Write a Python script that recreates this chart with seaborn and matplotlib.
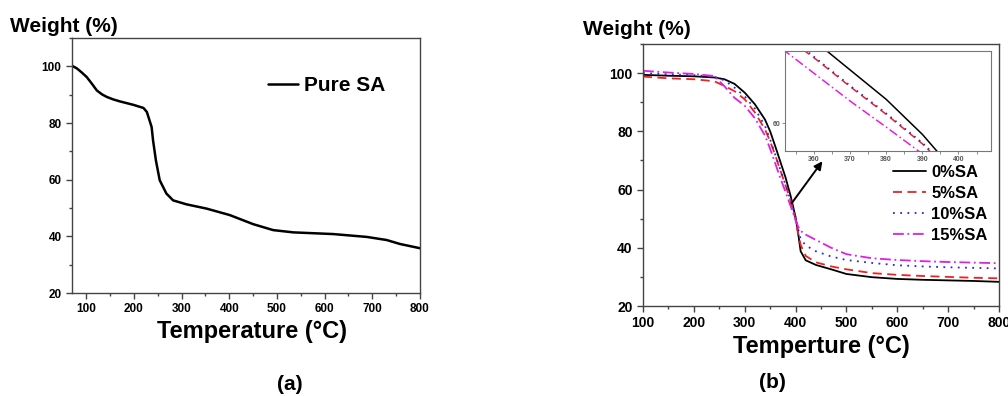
import matplotlib
matplotlib.use('Agg')
import matplotlib.pyplot as plt
from matplotlib.ticker import MultipleLocator
import seaborn as sns
import pandas as pd

# ---- data: panel (a), pure SA
temp_a = [70, 80, 90, 101, 112, 122, 133, 143, 157, 171, 199, 220, 227, 237, 240, 246, 254, 268, 282,
          310, 352, 401, 450, 492, 534, 618, 688, 730, 758, 800]
weight_a = [100.2, 99.3, 97.9, 96.2, 93.8, 91.5, 90.1, 89.2, 88.3, 87.6, 86.4, 85.3, 83.9, 78.6, 73.9,
            66.8, 59.8, 55.1, 52.7, 51.3, 49.8, 47.5, 44.3, 42.2, 41.4, 40.8, 39.8, 38.7, 37.3, 35.8]

# ---- data: panel (b), composites
temp_b = [100, 150, 200, 240, 260, 280, 300, 320, 340, 350, 360, 370, 380, 390, 400,
          405, 410, 420, 440, 470, 500, 550, 600, 650, 700, 750, 800]
sa_0 = [99.4, 99.1, 98.9, 98.5, 97.9, 96.3, 93.3, 89.3, 84.0, 80.0, 74.9, 69.6, 64.3, 58.0, 50.5,
        45.0, 38.8, 35.7, 34.1, 32.6, 31.0, 29.9, 29.3, 29.0, 28.8, 28.6, 28.3]
sa_5 = [98.8, 98.2, 97.9, 97.2, 95.6, 93.8, 91.0, 86.5, 80.6, 76.6, 71.8, 66.6, 61.6, 56.3, 49.8,
        45.0, 41.0, 37.2, 35.0, 33.6, 32.6, 31.3, 30.7, 30.3, 30.0, 29.7, 29.5]
sa_10 = [100.0, 99.6, 99.3, 98.8, 97.5, 95.0, 92.0, 87.8, 81.8, 77.2, 72.0, 66.8, 61.8, 56.5, 50.3,
         46.5, 43.0, 40.8, 38.8, 37.0, 35.8, 34.8, 34.0, 33.6, 33.3, 33.1, 32.9]
sa_15 = [100.8, 100.2, 99.7, 99.0, 95.5, 91.5, 88.8, 84.5, 78.5, 74.0, 69.0, 64.0, 59.3, 54.5, 49.5,
         47.3, 45.8, 44.5, 42.7, 40.0, 37.8, 36.4, 35.8, 35.4, 35.1, 34.9, 34.7]
labels_b = ['0%SA', '5%SA', '10%SA', '15%SA']

df_b = pd.DataFrame({'T': temp_b * 4,
                     'W': sa_0 + sa_5 + sa_10 + sa_15,
                     'sample': [l for l in labels_b for _ in temp_b]})

colors = {'0%SA': 'black', '5%SA': '#ee2222', '10%SA': '#2a2ad0', '15%SA': '#e020e0'}
dashes = {'0%SA': (None, None), '5%SA': (5, 3), '10%SA': (1, 3), '15%SA': (6, 2, 1, 2)}

sns.set_style('ticks')
plt.rcParams['font.family'] = ['Liberation Sans', 'DejaVu Sans']
plt.rcParams['font.weight'] = 'bold'
plt.rcParams['text.color'] = 'black'

fig = plt.figure(figsize=(10.08, 3.96), dpi=100)
spine_c = '#444444'


def style_axes(ax, fs):
    for s in ax.spines.values():
        s.set_visible(True)
        s.set_color(spine_c)
        s.set_linewidth(1.0)
    ax.tick_params(which='major', direction='out', length=4, width=1, color=spine_c,
                   labelsize=fs, labelcolor='black', top=False, right=False)
    ax.tick_params(which='minor', direction='out', length=2.5, width=1, color=spine_c,
                   top=False, right=False)
    for lab in ax.get_xticklabels() + ax.get_yticklabels():
        lab.set_fontweight('bold')


# ---- panel (a)
ax1 = fig.add_axes([72/1008, 1-293/396, 348/1008, 255/396])
sns.lineplot(x=temp_a, y=weight_a, ax=ax1, color='black', lw=1.8, label='Pure SA')
ax1.set_xlim(70, 800)
ax1.set_ylim(20, 110)
ax1.xaxis.set_major_locator(MultipleLocator(100))
ax1.xaxis.set_minor_locator(MultipleLocator(50))
ax1.yaxis.set_major_locator(MultipleLocator(20))
ax1.yaxis.set_minor_locator(MultipleLocator(10))
ax1.set_xlabel('')
ax1.set_ylabel('')
style_axes(ax1, 8.5)
ax1.legend(loc='upper left', bbox_to_anchor=(268/1008, 1-76/396), bbox_transform=fig.transFigure,
           frameon=False, prop={'size': 15, 'weight': 'bold'}, handlelength=1.45,
           handletextpad=0.3, borderpad=0, borderaxespad=0)

fig.text(10/1008, 1-32/396, 'Weight (%)', fontsize=15, fontweight='bold', va='baseline')
fig.text(252/1008, 1-338/396, 'Temperature (°C)', fontsize=17, fontweight='bold',
         ha='center', va='baseline')
fig.text(290/1008, 1-384/396, '(a)', fontsize=15, fontweight='bold', ha='center', va='center')

# ---- panel (b)
ax2 = fig.add_axes([643/1008, 1-306/396, 356/1008, 262/396])
sns.lineplot(data=df_b, x='T', y='W', hue='sample', style='sample', palette=colors,
             dashes=dashes, ax=ax2, lw=1.3)
ax2.set_xlim(100, 800)
ax2.set_ylim(20, 110)
ax2.xaxis.set_major_locator(MultipleLocator(100))
ax2.xaxis.set_minor_locator(MultipleLocator(50))
ax2.yaxis.set_major_locator(MultipleLocator(20))
ax2.yaxis.set_minor_locator(MultipleLocator(10))
ax2.set_xlabel('')
ax2.set_ylabel('')
style_axes(ax2, 10)
ax2.legend(loc='upper left', bbox_to_anchor=(893/1008, 1-165/396), bbox_transform=fig.transFigure,
           frameon=False, prop={'size': 12, 'weight': 'bold'}, handlelength=2.0,
           handletextpad=0.3, labelspacing=0.35, borderpad=0, borderaxespad=0)

# arrow from the crossing point to the inset
ax2.annotate('', xy=(456, 70.5), xytext=(389, 54.5),
             arrowprops=dict(arrowstyle='-|>', color='black', lw=1.4, mutation_scale=12))

fig.text(583/1008, 1-35/396, 'Weight (%)', fontsize=15, fontweight='bold', va='baseline')
fig.text(821/1008, 1-353/396, 'Temperture (°C)', fontsize=17, fontweight='bold',
         ha='center', va='baseline')
fig.text(772/1008, 1-383/396, '(b)', fontsize=15, fontweight='bold', ha='center', va='center')

# ---- inset zoom
ax3 = fig.add_axes([785/1008, 1-151/396, 206/1008, 100/396])
sns.lineplot(data=df_b, x='T', y='W', hue='sample', style='sample', palette=colors,
             dashes=dashes, ax=ax3, lw=1.1, legend=False)
ax3.set_xlim(352, 409)
ax3.set_ylim(55, 73)
ax3.xaxis.set_major_locator(MultipleLocator(10))
ax3.xaxis.set_minor_locator(MultipleLocator(5))
ax3.set_yticks([60])
ax3.set_xlabel('')
ax3.set_ylabel('')
for s in ax3.spines.values():
    s.set_visible(True)
    s.set_color('#777777')
    s.set_linewidth(0.8)
ax3.tick_params(which='both', direction='out', length=2, width=0.6, color='#777777',
                labelsize=5, labelcolor='#555555', pad=1.5)

fig.savefig('out.png', dpi=100)
